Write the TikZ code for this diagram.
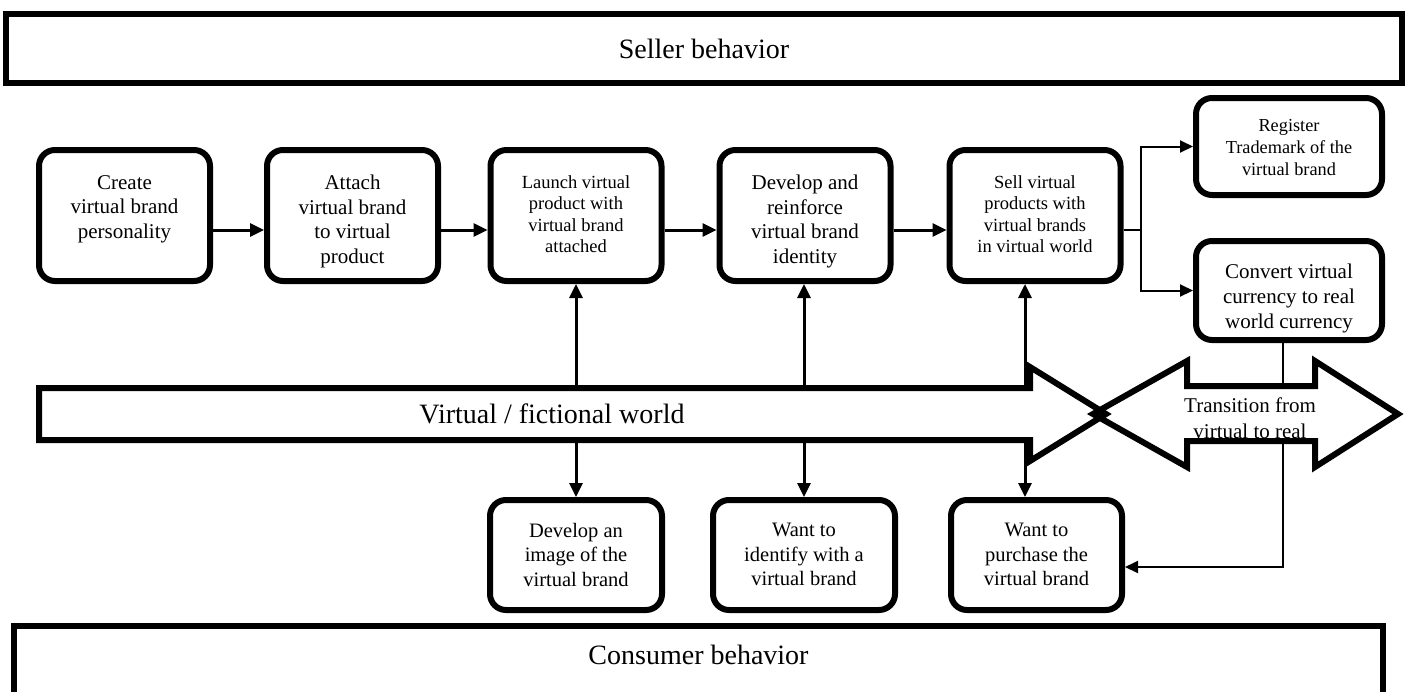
\documentclass[tikz,border=0pt]{standalone}
\usepackage{fontspec}
\setmainfont{Liberation Serif}
\usetikzlibrary{arrows.meta}
\tikzset{
  stepbox/.style={draw, line width=6pt, rounded corners=16pt, fill=white, inner sep=0pt},
  topbox/.style={stepbox, minimum width=171pt, minimum height=131pt},
  lowbox/.style={stepbox, minimum height=110pt},
  sidebox/.style={stepbox, minimum width=186pt},
  lbl/.style={align=center, inner sep=0pt, anchor=north},
  fbig/.style={font=\fontsize{21}{24.5}\selectfont},
  fsmall/.style={font=\fontsize{18.5}{21.5}\selectfont},
  fhead/.style={font=\fontsize{28}{32}\selectfont},
  band/.style={draw, line width=6pt, inner sep=0pt},
  flow/.style={line width=3pt, -{Triangle[length=14pt,width=13pt]}},
  feed/.style={line width=2pt, -{Triangle[length=13pt,width=12pt]}},
  bigarrow/.style={line width=6pt, line join=miter, miter limit=10},
}
\begin{document}
\begin{tikzpicture}[x=1pt,y=-1pt]
\useasboundingbox (0,0) rectangle (1408,691);

% section bands
\node[band, fhead, minimum width=1396pt, minimum height=69pt] (seller) at (704,48.5) {Seller behavior};
\node[band, minimum width=1369pt, minimum height=120pt] (consumer) at (698.5,686) {};
\node[fhead] (consumerT) at (698.5,655) {Consumer behavior};

% seller process boxes
\node[topbox] (create)  at (124.5,215.5) {};
\node[topbox] (attach)  at (352.5,215.5) {};
\node[topbox] (launch)  at (576,215.5) {};
\node[topbox] (develop) at (805,215.5) {};
\node[topbox] (sell)    at (1035,215.5) {};
\node[lbl, fbig]   (createT)  at (124.5,175) {Create\\virtual brand\\personality};
\node[lbl, fbig]   (attachT)  at (352.5,175) {Attach\\virtual brand\\to virtual\\product};
\node[lbl, fsmall] (launchT)  at (576,175) {Launch virtual\\product with\\virtual brand\\attached};
\node[lbl, fbig]   (developT) at (805,175) {Develop and\\reinforce\\virtual brand\\identity};
\node[lbl, fsmall] (sellT)    at (1035,175) {Sell virtual\\products with\\virtual brands\\in virtual world};

\node[sidebox, minimum height=97pt] (register) at (1289,146.5) {};
\node[sidebox, minimum height=99pt] (convert)  at (1289,290.5) {};
\node[lbl, font=\fontsize{18.3}{22}\selectfont] (registerT) at (1289,119) {Register\\Trademark of the\\virtual brand};
\node[lbl, font=\fontsize{21}{25}\selectfont] (convertT) at (1289,264) {Convert virtual\\currency to real\\world currency};

% consumer boxes
\node[lowbox, minimum width=172pt] (image)    at (576,555) {};
\node[lowbox, minimum width=182pt] (identify) at (804,555) {};
\node[lowbox, minimum width=171pt] (purchase) at (1036.5,555) {};
\node[lbl, font=\fontsize{20.5}{24.5}\selectfont] (imageT)    at (576,523) {Develop an\\image of the\\virtual brand};
\node[lbl, font=\fontsize{20.5}{24.5}\selectfont] (identifyT) at (804,523) {Want to\\identify with a\\virtual brand};
\node[lbl, font=\fontsize{20.5}{24.5}\selectfont] (purchaseT) at (1036.5,523) {Want to\\purchase the\\virtual brand};

% helper coordinates
\coordinate (rowA) at (0,230);
\coordinate (v1) at (576,414);
\coordinate (v2) at (804,414);
\coordinate (v3) at (1025,414);
\coordinate (split) at (1141,230);
\coordinate (drop) at (1283,567);

% process flow
\draw[flow] (create.east |- rowA) -- (attach.west |- rowA);
\draw[flow] (attach.east |- rowA) -- (launch.west |- rowA);
\draw[flow] (launch.east |- rowA) -- (develop.west |- rowA);
\draw[flow] (develop.east |- rowA) -- (sell.west |- rowA);

% links through the world band
\draw[flow] (v1) -- (launch.south -| v1);
\draw[flow] (v2) -- (develop.south -| v2);
\draw[flow] (v3) -- (sell.south -| v3);
\draw[flow] (v1) -- (image.north -| v1);
\draw[flow] (v2) -- (identify.north -| v2);
\draw[flow] (v3) -- (purchase.north -| v3);

% branch after selling
\draw[line width=2pt] (sell.east |- rowA) -- (split);
\draw[feed] (split) |- (register);
\draw[feed] (split) |- (convert);
\draw[feed] (convert.south -| drop) -- (drop) -- (purchase.east |- drop);

% block arrows
\path[fill=white] (39,388) -- (1030,388) -- (1030,367) -- (1106,414) -- (1030,461) -- (1030,440) -- (39,440) -- cycle;
\path[fill=white] (1093,414) -- (1187,361) -- (1187,386) -- (1315,386) -- (1315,361) -- (1398,414) -- (1315,467) -- (1315,441) -- (1187,441) -- (1187,467) -- cycle;
\draw[bigarrow] (39,388) -- (1030,388) -- (1030,367) -- (1106,414) -- (1030,461) -- (1030,440) -- (39,440) -- cycle;
\draw[bigarrow] (1093,414) -- (1187,361) -- (1187,386) -- (1315,386) -- (1315,361) -- (1398,414) -- (1315,467) -- (1315,441) -- (1187,441) -- (1187,467) -- cycle;

\node[fhead] (worldT) at (552,414) {Virtual / fictional world};
\begin{scope}
  \clip (1100,380) rectangle (1400,437);
  \node[lbl, font=\fontsize{21}{26}\selectfont] (transT) at (1250,398) {Transition from\\virtual to real};
\end{scope}
\end{tikzpicture}
\end{document}
